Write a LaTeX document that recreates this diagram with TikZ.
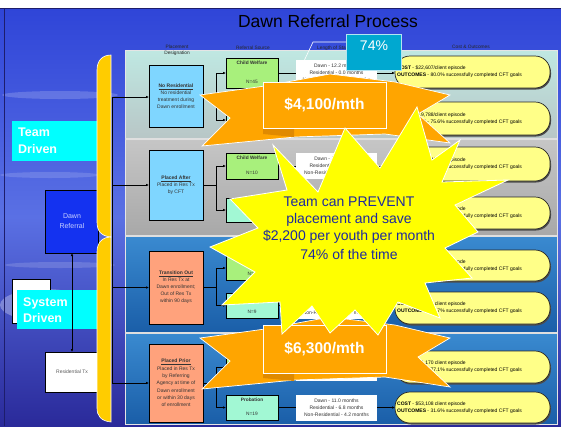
\documentclass[tikz,border=0pt]{standalone}
\usepackage{fontspec}
\setmainfont{Liberation Sans}
\usetikzlibrary{arrows.meta,shadows}
\definecolor{bgA}{HTML}{2F45D8}
\definecolor{bgB}{HTML}{5A70E4}
\definecolor{bgC}{HTML}{2A2A9A}
\definecolor{rowA}{HTML}{BFE8E2}
\definecolor{rowAb}{HTML}{B8C6C6}
\definecolor{rowB}{HTML}{C6C6C6}
\definecolor{rowBb}{HTML}{A8A8A8}
\definecolor{rowC}{HTML}{3A8AD0}
\definecolor{rowCb}{HTML}{1A5EA8}
\definecolor{desBlue}{HTML}{7FD6FF}
\definecolor{desOrange}{HTML}{FFA27C}
\definecolor{srcGreen}{HTML}{A8F07C}
\definecolor{srcMint}{HTML}{A2F8D4}
\definecolor{costYellow}{HTML}{FFFF88}
\definecolor{labelCyan}{HTML}{00FFFF}
\definecolor{pctBlue}{HTML}{00A8D0}
\definecolor{burstOrange}{HTML}{FFA500}
\definecolor{burstDark}{HTML}{E08A00}
\definecolor{starYellow}{HTML}{FFFF00}
\definecolor{starText}{HTML}{1E2A9E}
\definecolor{dawnBlue}{HTML}{1432F0}
\definecolor{dawnText}{HTML}{C8D0FF}
\definecolor{bracketYellow}{HTML}{FFCC00}
\tikzset{
  tinytext/.style={font=\fontsize{5}{7}\selectfont, align=center, inner sep=0pt, text=black!80},
  hdr/.style={font=\fontsize{4.8}{6}\selectfont, align=center, inner sep=0pt, text=black!85},
  box/.style={draw=black, line width=0.7pt, inner sep=0pt, outer sep=0pt},
  desig/.style={box, minimum width=54pt},
  src/.style={box, line width=0.5pt, minimum width=52pt, drop shadow={shadow xshift=0.6pt, shadow yshift=-1.2pt, fill=black!65, opacity=1}},
  srctext/.style={font=\bfseries\fontsize{4.8}{6}\selectfont, inner sep=0pt, text=black!80},
  stay/.style={fill=white, inner sep=0pt, outer sep=0pt, minimum width=81pt, minimum height=26pt},
  cost/.style={draw=black!85, line width=0.7pt, fill=costYellow, rounded corners=15pt, minimum width=155pt, inner sep=0pt, outer sep=0pt, drop shadow={shadow xshift=1pt, shadow yshift=-1.5pt, fill=black!70, opacity=1}},
  costtext/.style={font=\fontsize{5}{7}\selectfont, align=left, inner sep=0pt, anchor=west, text=black},
  link/.style={line width=0.6pt, draw=black},
  arr/.style={link, -{Latex[length=3pt,width=2.6pt]}},
  sidelabel/.style={font=\bfseries\fontsize{12.5}{16.5}\selectfont, text=white, align=left, inner sep=0pt, anchor=west},
  banner/.style={fill=burstOrange, draw=white, line width=0.8pt, minimum width=123pt, inner sep=0pt, text=white, font=\bfseries\fontsize{15.5}{18}\selectfont},
  burst/.style={fill=burstOrange, draw=white, line width=0.7pt},
  startext/.style={font=\fontsize{14}{17}\selectfont, text=starText, inner sep=0pt}
}
\begin{document}
\begin{tikzpicture}[x=1pt,y=-1pt]
\useasboundingbox (0,0) rectangle (561,426);
% background
\fill[white] (0,0) rectangle (561,426);
\shade[top color=bgA, bottom color=bgC, middle color=bgB] (0,8) rectangle (561,426);
\fill[white, opacity=0.18] (60,95) ellipse (58 and 4);
\fill[white, opacity=0.15] (50,175) ellipse (50 and 3);
\fill[white, opacity=0.3] (45,305) ellipse (45 and 16);
\fill[white, opacity=0.15] (60,265) ellipse (55 and 3);
\draw[bgC!70!black, line width=1pt] (0,8.5) -- (561,8.5);
\draw[bgC!70!black, line width=0.8pt] (4,8) -- (4,426);

% title
\node[font=\fontsize{17.5}{20}\selectfont, text=black, inner sep=0pt] (title) at (328,21) {Dawn Referral Process};

% panels
\shade[top color=rowA, bottom color=rowAb] (125,50) rectangle (557,139);
\shade[top color=rowB, bottom color=rowBb] (125,139) rectangle (557,236);
\shade[top color=rowC, bottom color=rowCb] (125,236) rectangle (557,333);
\shade[top color=rowC, bottom color=rowCb] (125,333) rectangle (557,424);
\draw[white!80!gray, line width=0.8pt] (125,50) rectangle (557,424);
\draw[white!75!gray, line width=1.5pt] (125,139) -- (557,139);
\draw[white!75!gray, line width=1.5pt] (125,236) -- (557,236);
\draw[white!75!gray, line width=1.5pt] (125,333) -- (557,333);

% headers
\node[hdr] (h1) at (177,50) {Placement\\Designation};
\node[hdr] (h2) at (253,48) {Referral Source};
\node[hdr, anchor=west] (h3) at (317,48) {Length of Stay};
\node[hdr] (h4) at (471,47) {Cost \& Outcomes};

% designation boxes
\node[desig, fill=desBlue, minimum height=62pt] (d1) at (176,96) {};
\node[tinytext] at (d1) {\underline{\textbf{No Residential}}\\No residential\\treatment during\\Dawn enrollment};
\node[desig, fill=desBlue, minimum height=70pt] (d2) at (176,185) {};
\node[tinytext] at (d2) {\underline{\textbf{Placed After}}\\Placed in Res Tx\\by CFT};
\node[desig, fill=desOrange, minimum height=73pt] (d3) at (176,287.5) {};
\node[tinytext] at (d3) {\underline{\textbf{Transition Out}}\\In Res Tx at\\Dawn enrollment;\\Out of Res Tx\\within 90 days};
\node[desig, fill=desOrange, minimum height=78pt] (d4) at (176,383) {};
\node[tinytext, font=\fontsize{5}{7.3}\selectfont] at (d4) {\underline{\textbf{Placed Prior}}\\Placed in Res Tx\\by Referring\\Agency at time of\\Dawn enrollment\\or within 30 days\\of enrollment};

% referral source boxes
\foreach \n/\y/\h/\col/\lab/\N in {1a/73/30/srcGreen/Child Welfare/N=45, 2a/166/26/srcGreen/Child Welfare/N=10, 3b/305.5/25/srcMint/Probation/N=9, 4b/407.5/25/srcMint/Probation/N=19}{
  \node[src, fill=\col, minimum height=\h pt] (c\n) at (252,\y) {};
  \node[srctext] at ([yshift=-5pt]c\n.north) {\lab};
  \node[srctext, font=\fontsize{4.8}{6}\selectfont] at ([yshift=6pt]c\n.south) {\N};
}
\foreach \n/\y/\h/\col/\N in {1b/120/26/srcMint/, 2b/210/24/srcMint/N=8, 3a/268/24/srcGreen/N=6, 4a/367.5/25/srcGreen/}{
  \node[src, fill=\col, minimum height=\h pt] (c\n) at (252,\y) {};
  \node[srctext, font=\fontsize{4.8}{6}\selectfont] at ([yshift=6pt]c\n.south) {\N};
}

% length of stay boxes
\node[stay] (l1a) at (336.5,73) {};
\node[tinytext] at (l1a) {Dawn - 12.2 months\\Residential - 0.0 months\\Non-Residential - 12.2 months};
\node[stay] (l1b) at (336.5,120) {};
\node[stay] (l2a) at (336.5,166) {};
\node[tinytext] at (l2a) {Dawn - 11.6 months\\Residential - 5.9 months\\Non-Residential - 5.7 months};
\node[stay] (l2b) at (336.5,210) {};
\node[stay] (l3a) at (336.5,268) {};
\node[stay] (l3b) at (336.5,305.5) {};
\node[tinytext] at (l3b) {Dawn - 13.0 months\\Residential - 2.8 months\\Non-Residential - 10.2 months};
\node[stay] (l4a) at (336.5,367.5) {};
\node[tinytext] at (l4a) {Dawn - 12.1 months\\Residential - 7.4 months\\Non-Residential - 4.7 months};
\node[stay] (l4b) at (336.5,407.5) {};
\node[tinytext] at (l4b) {Dawn - 11.0 months\\Residential - 6.8 months\\Non-Residential - 4.2 months};

% cost boxes
\node[cost, minimum height=32pt] (o1a) at (472.5,72) {};
\node[costtext] at ([xshift=2pt]o1a.west) {\textbf{COST} - \$22,607/client episode\\\textbf{OUTCOMES} - 80.0\% successfully completed CFT goals};
\node[cost, minimum height=33pt] (o1b) at (472.5,118.5) {};
\node[costtext] at ([xshift=2pt]o1b.west) {\textbf{COST} - \$19,788/client episode\\\textbf{OUTCOMES} - 75.6\% successfully completed CFT goals};
\node[cost, minimum height=34pt] (o2a) at (472.5,164) {};
\node[costtext] at ([xshift=2pt]o2a.west) {\textbf{COST} - \$71,304/client episode\\\textbf{OUTCOMES} - 70.0\% successfully completed CFT goals};
\node[cost, minimum height=32pt] (o2b) at (472.5,213) {};
\node[costtext] at ([xshift=2pt]o2b.west) {\textbf{COST} - \$48,150/client episode\\\textbf{OUTCOMES} - 62.5\% successfully completed CFT goals};
\node[cost, minimum height=31pt] (o3a) at (472.5,265.5) {};
\node[costtext] at ([xshift=2pt]o3a.west) {\textbf{COST} - \$41,020 client episode\\\textbf{OUTCOMES} - 66.7\% successfully completed CFT goals};
\node[cost, minimum height=32pt] (o3b) at (472.5,308) {};
\node[costtext] at ([xshift=2pt]o3b.west) {\textbf{COST} - \$30,792 client episode\\\textbf{OUTCOMES} - 66.7\% successfully completed CFT goals};
\node[cost, minimum height=32pt] (o4a) at (472.5,367) {};
\node[costtext] at ([xshift=2pt]o4a.west) {\textbf{COST} - \$51,170 client episode\\\textbf{OUTCOMES} - 77.1\% successfully completed CFT goals};
\node[cost, minimum height=31pt] (o4b) at (472.5,407.5) {};
\node[costtext] at ([xshift=2pt]o4b.west) {\textbf{COST} - \$53,108 client episode\\\textbf{OUTCOMES} - 31.6\% successfully completed CFT goals};

% connectors
\coordinate (t1) at (112,97);
\coordinate (t2) at (112,185);
\coordinate (t3) at (112,287.5);
\coordinate (t4) at (112,383);
\draw[link] (t1) -- (t4);
\foreach \r in {1,2,3,4}{
  \draw[arr] (t\r) -- (t\r -| d\r.west);
  \draw[link] (d\r.east) -- ++(13,0) coordinate (s\r);
  \draw[link] (s\r |- c\r a.west) -- (s\r |- c\r b.west);
  \draw[arr] (s\r |- c\r a.west) -- (c\r a.west);
  \draw[arr] (s\r |- c\r b.west) -- (c\r b.west);
  \foreach \s in {a,b}{
    \draw[link] (c\r\s.east) -- (c\r\s.east -| l\r\s.west);
    \draw[arr] (l\r\s.east) -- (l\r\s.east -| o\r\s.west);
  }
}

% 74% callout
\node[fill=pctBlue, draw=white!70!pctBlue, line width=0.5pt, minimum width=55pt, minimum height=36pt, inner sep=0pt] (pct) at (373.5,52) {};
\node[font=\fontsize{14}{16}\selectfont, text=white, inner sep=0pt] at (374,46) {74\%};
\coordinate (callA) at (313,42);
\coordinate (callB) at (304,61);
\draw[white, line width=0.6pt] (pct.west |- callA) -- (callA) -- (callB);

% orange bursts and banners
\filldraw[burst] (200,95) -- (265,86) -- (330,74) -- (395,82) -- (450,95) -- (418,114) -- (450,143) -- (385,134) -- (295,137) -- (202,146) -- (230,118) -- cycle;
\filldraw[burst] (200,338) -- (265,329) -- (330,317) -- (395,325) -- (450,338) -- (418,357) -- (450,387) -- (385,377) -- (295,380) -- (202,389) -- (230,361) -- cycle;
\fill[burstDark] (263,128) -- (294,128) -- (294,137) -- (263,134) -- cycle;
\fill[burstDark] (263,373) -- (294,373) -- (294,381) -- (263,378) -- cycle;
\node[banner, minimum height=46pt] (save1) at (324.5,105) {\$4,100/mth};
\node[banner, minimum height=48pt] (save2) at (324.5,349) {\$6,300/mth};

% yellow star
\filldraw[fill=starYellow, draw=white, line width=0.8pt] (273,145) -- (318,192) -- (345,128) -- (380,168) -- (417,107) -- (432,160) -- (460,140) -- (442,182) -- (508,180) -- (455,205) -- (478,232) -- (445,248) -- (472,278) -- (425,283) -- (440,318) -- (398,302) -- (378,335) -- (355,310) -- (330,333) -- (312,306) -- (282,334) -- (280,302) -- (222,305) -- (255,272) -- (210,247) -- (258,228) -- (230,199) -- (287,190) -- cycle;
\node[startext] (prevent1) at (349,202) {Team can PREVENT};
\node[startext] (prevent2) at (349,220) {placement and save};
\node[startext] (prevent3) at (349,237) {\$2,200 per youth per month};
\node[startext] (prevent4) at (349,254) {74\% of the time};

% left side
\node[box, fill=white, minimum width=38pt, minimum height=44pt] (blank) at (31,301) {};
\node[fill=labelCyan, minimum width=85pt, minimum height=40pt, inner sep=0pt] (team) at (54.5,141) {};
\node[sidelabel] at (18,141) {Team\\Driven};
\node[fill=labelCyan, minimum width=80pt, minimum height=39pt, inner sep=0pt] (system) at (57,309.5) {};
\node[sidelabel] at (23,310) {System\\Driven};
\node[box, fill=dawnBlue, minimum width=53pt, minimum height=63pt] (dawn) at (71.5,221.5) {};
\node[font=\fontsize{7}{9.5}\selectfont, text=dawnText, align=center, inner sep=0pt] at (72,221) {Dawn\\Referral};
\node[box, fill=white, minimum width=53pt, minimum height=40pt] (restx) at (71.5,372) {};
\node[font=\fontsize{5}{6}\selectfont, text=black!65, inner sep=0pt] at (72,372) {Residential Tx};
\draw[link, {Latex[length=3pt,width=2.6pt]}-{Latex[length=3pt,width=2.6pt]}] (dawn.south -| 72,0) -- (restx.north -| 72,0);

% brackets
\filldraw[fill=bracketYellow, draw=white, line width=0.6pt] (111,55) -- (111,237) .. controls (101,236) and (97,231) .. (97,222) -- (97,70) .. controls (97,61) and (102,55) .. (111,55) -- cycle;
\filldraw[fill=bracketYellow, draw=white, line width=0.6pt] (111,237) -- (111,422) .. controls (101,421) and (97,416) .. (97,408) -- (97,252) .. controls (97,243) and (102,237) .. (111,237) -- cycle;
\draw[link] (t1) -- (t4);
\end{tikzpicture}
\end{document}
